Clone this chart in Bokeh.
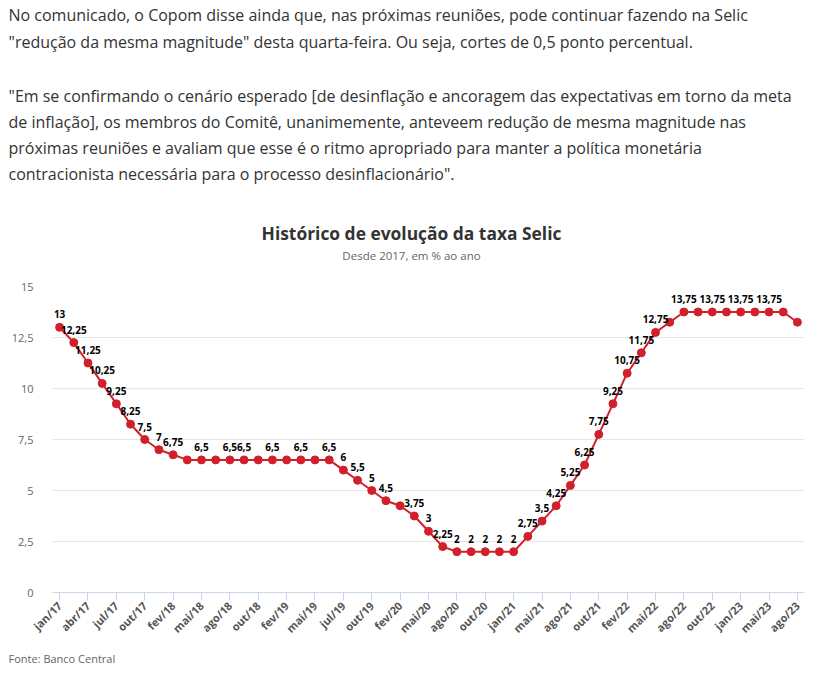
import math
from bokeh.plotting import figure
from bokeh.layouts import column
from bokeh.models import Range1d, FixedTicker, ColumnDataSource
from bokeh.embed import file_html
from bokeh.resources import INLINE
from bokeh.core.properties import value

# ---------------- data ----------------
meetings = ["jan/17", "fev/17", "abr/17", "mai/17", "jul/17", "set/17", "out/17", "dez/17",
            "fev/18", "mar/18", "mai/18", "jun/18", "ago/18", "set/18", "out/18", "dez/18",
            "fev/19", "mar/19", "mai/19", "jun/19", "jul/19", "set/19", "out/19", "dez/19",
            "fev/20", "mar/20", "mai/20", "jun/20", "ago/20", "set/20", "out/20", "dez/20",
            "jan/21", "mar/21", "mai/21", "jun/21", "ago/21", "set/21", "out/21", "dez/21",
            "fev/22", "mar/22", "mai/22", "jun/22", "ago/22", "set/22", "out/22", "dez/22",
            "jan/23", "mar/23", "mai/23", "jun/23", "ago/23"]

selic = [13, 12.25, 11.25, 10.25, 9.25, 8.25, 7.5, 7,
         6.75, 6.5, 6.5, 6.5, 6.5, 6.5, 6.5, 6.5,
         6.5, 6.5, 6.5, 6.5, 6, 5.5, 5, 4.5,
         4.25, 3.75, 3, 2.25, 2, 2, 2, 2,
         2, 2.75, 3.5, 4.25, 5.25, 6.25, 7.75, 9.25,
         10.75, 11.75, 12.75, 13.25, 13.75, 13.75, 13.75, 13.75,
         13.75, 13.75, 13.75, 13.75, 13.25]

# data labels that the original hides because they overlap
hidden_labels = [9, 11, 14, 16, 18, 24, 43, 45, 47, 49, 51, 52]

y_ticks = [0, 2.5, 5, 7.5, 10, 12.5, 15]

paragraph = [
    "No comunicado, o Copom disse ainda que, nas próximas reuniões, pode continuar fazendo na Selic",
    "\"redução da mesma magnitude\" desta quarta-feira. Ou seja, cortes de 0,5 ponto percentual.",
    "\"Em se confirmando o cenário esperado [de desinflação e ancoragem das expectativas em torno da meta",
    "de inflação], os membros do Comitê, unanimemente, anteveem redução de mesma magnitude nas",
    "próximas reuniões e avaliam que esse é o ritmo apropriado para manter a política monetária",
    "contracionista necessária para o processo desinflacionário\".",
]
title_text = "Histórico de evolução da taxa Selic"
subtitle_text = "Desde 2017, em % ao ano"
source_text = "Fonte: Banco Central"


def fmt(v):
    return f"{v:g}".replace(".", ",")


RED = "#d1202c"
FONT = "Open Sans"
W = 811

# ---------------- header (paragraph + title) ----------------
HEAD_H = 270
head = figure(width=W, height=HEAD_H, output_backend="svg", toolbar_location=None,
              x_range=Range1d(0, W), y_range=Range1d(HEAD_H, 0),
              x_axis_type=None, y_axis_type=None, min_border=0)
head.frame_align = False
head.outline_line_color = None
head.xgrid.visible = False
head.ygrid.visible = False
para_y = [14, 41, 95, 121, 147, 173]
head.text(x=[8] * len(paragraph), y=para_y, text=paragraph, text_font=value(FONT),
          text_font_size="16px", text_color="#333333", text_baseline="middle",
          text_align="left")
head.text(x=[411], y=[232], text=[title_text], text_font=value(FONT), text_font_size="17.4px",
          text_font_style="bold", text_color="#333333", text_baseline="middle",
          text_align="center")
head.text(x=[411], y=[255], text=[subtitle_text], text_font=value(FONT), text_font_size="11.5px",
          text_color="#666666", text_baseline="middle", text_align="center")

# ---------------- chart ----------------
idx = list(range(len(selic)))
labels = ["" if i in hidden_labels else fmt(v) for i, v in zip(idx, selic)]
src = ColumnDataSource(dict(x=idx, y=selic, lab=labels))

p = figure(width=W, height=378, output_backend="svg", toolbar_location=None,
           title=None, x_range=Range1d(-0.5, len(selic) - 0.5), y_range=Range1d(0, 15),
           min_border_left=52, min_border_right=7, min_border_top=16, min_border_bottom=56)
p.frame_align = False
p.outline_line_color = None

p.line("x", "y", source=src, line_color=RED, line_width=2)
p.scatter("x", "y", source=src, size=8, fill_color=RED, line_color=RED)
p.text("x", "y", text="lab", source=src, text_font=value(FONT), text_font_size="10px",
       text_font_style="bold", text_color="#000000", text_align="center",
       text_baseline="middle", y_offset=-13)

p.yaxis.ticker = FixedTicker(ticks=y_ticks)
p.yaxis.major_label_overrides = {t: fmt(t) for t in y_ticks}
p.yaxis.axis_line_color = None
p.yaxis.major_tick_line_color = None
p.yaxis.minor_tick_line_color = None
p.yaxis.major_label_text_font = FONT
p.yaxis.major_label_text_font_size = "11px"
p.yaxis.major_label_text_color = "#666666"
p.yaxis.major_label_standoff = 13
p.ygrid.grid_line_color = "#e6e6e6"
p.ygrid.ticker = FixedTicker(ticks=y_ticks[1:])

x_ticks = idx[::2]
p.xaxis.ticker = FixedTicker(ticks=x_ticks)
p.xaxis.major_label_overrides = {i: meetings[i] for i in x_ticks}
p.xaxis.major_label_orientation = math.pi / 4
p.xaxis.axis_line_color = "#ccd6eb"
p.xaxis.major_tick_line_color = "#ccd6eb"
p.xaxis.major_tick_out = 8
p.xaxis.major_tick_in = 0
p.xaxis.minor_tick_line_color = None
p.xaxis.major_label_text_font = FONT
p.xaxis.major_label_text_font_size = "11px"
p.xaxis.major_label_text_font_style = "bold"
p.xaxis.major_label_text_color = "#555555"
p.xaxis.major_label_standoff = 3
p.xgrid.grid_line_color = None

# ---------------- footer ----------------
FOOT_H = 22
foot = figure(width=W, height=FOOT_H, output_backend="svg", toolbar_location=None,
              x_range=Range1d(0, W), y_range=Range1d(FOOT_H, 0),
              x_axis_type=None, y_axis_type=None, min_border=0)
foot.frame_align = False
foot.outline_line_color = None
foot.xgrid.visible = False
foot.ygrid.visible = False
foot.text(x=[8], y=[10], text=[source_text], text_font=value(FONT), text_font_size="11px",
          text_color="#666666", text_baseline="middle", text_align="left")

layout = column(head, p, foot, spacing=0)
open("out.html", "w").write(file_html(layout, INLINE))
